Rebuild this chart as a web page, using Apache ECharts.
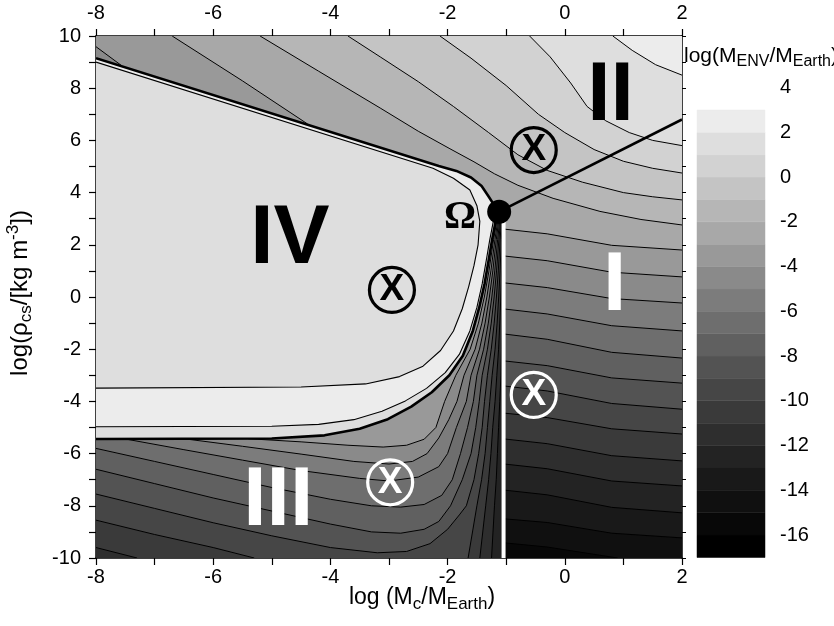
<!DOCTYPE html>
<html><head><meta charset="utf-8">
<script src="https://cdn.jsdelivr.net/npm/echarts/dist/echarts.min.js"></script>
<style>html,body{margin:0;padding:0;background:#fff}#c{width:834px;height:626px}</style>
</head><body><div id="c"></div>
<script>
// ---------- colour scale (band lower bounds and colours) ----------
const bandLows = [-17,-16,-15,-14,-13,-12,-11,-10,-9,-8,-7,-6,-5,-4,-3,-2,-1,0,1,2];
const bandColors = ['#000000','#080808','#101010','#191919','#232323','#2e2e2e','#3a3a3a','#464646','#535353','#606060','#6e6e6e','#7c7c7c','#8a8a8a','#999999','#a8a8a8','#b6b6b6','#c4c4c4','#d2d2d2','#dedede','#ececec'];

// ---------- region I contours (level, points) ----------
const regionILines = [
 [-3, [[-1.03,2.6],[-0.3,2.42],[0.8,1.98],[2,1.8]]],
 [-4, [[-1.03,1.57],[-0.3,1.39],[0.8,0.95],[2,0.77]]],
 [-5, [[-1.03,0.54],[-0.3,0.36],[0.8,-0.06],[2,-0.23]]],
 [-6, [[-1.03,-0.46],[-0.3,-0.65],[0.8,-1.1],[2,-1.3]]],
 [-7, [[-1.03,-1.42],[-0.3,-1.62],[0.8,-2.12],[2,-2.34]]],
 [-8, [[-1.03,-2.45],[-0.3,-2.63],[0.8,-3.1],[2,-3.3]]],
 [-9, [[-1.03,-3.41],[-0.3,-3.6],[0.8,-4.08],[2,-4.3]]],
 [-10,[[-1.03,-4.45],[-0.3,-4.62],[0.8,-5.05],[2,-5.25]]],
 [-11,[[-1.03,-5.44],[-0.3,-5.62],[0.8,-6.08],[2,-6.28]]],
 [-12,[[-1.03,-6.4],[-0.3,-6.58],[0.8,-7.05],[2,-7.24]]],
 [-13,[[-1.03,-7.4],[-0.3,-7.58],[0.8,-8.06],[2,-8.27]]],
 [-14,[[-1.03,-8.5],[-0.3,-8.64],[0.8,-9.05],[2,-9.23]]],
 [-15,[[-1.03,-9.42],[-0.3,-9.58],[0.5,-9.86],[0.9,-10]]]
];
// ---------- upper region contours ----------
const upperLines = [
 [-2, [[-5.2,10],[-4.2,8.65],[-3.15,7.24],[-2.5,6.35],[-1.96,5.68],[-1.55,5.18],[-1.2,4.72],[-0.8,4.28],[-0.2,3.78],[0.6,3.28],[1.3,2.97],[2,2.76]]],
 [-1, [[-3.7,10],[-3.15,9.2],[-2.5,8.25],[-1.9,7.3],[-1.3,6.3],[-0.8,5.45],[-0.3,4.85],[0.3,4.4],[1.0,4.0],[1.5,3.84],[2,3.72]]],
 [0,  [[-2.13,10],[-1.6,9.15],[-1.0,8.1],[-0.45,7.0],[0.0,6.3],[0.5,5.65],[1.0,5.2],[1.5,4.93],[2,4.75]]],
 [1,  [[-0.6,10],[-0.25,9.2],[0.1,8.2],[0.38,7.3],[0.7,6.75],[1.1,6.3],[1.5,6.0],[2,5.8]]],
 [2,  [[0.82,10],[1.15,9.45],[1.55,8.9],[2,8.5]]]
];
const cornerLineA = [[-8,9.59],[-7.56,8.86]];          // level -4
const cornerLineB = [[-6.7,10],[-5.5,8.28],[-4.39,6.63]]; // level -3

// ---------- region III contours ----------
const r3Full = [
 [-9, [[-8,-7.55],[-7,-8.1],[-6,-8.65],[-5,-9.15],[-4,-9.6],[-3.2,-9.8],[-2.7,-9.75],[-2.3,-9.45],[-2.0,-8.9],[-1.8,-8.35],[-1.68,-8.0],[-1.55,-7.0],[-1.47,-6.0],[-1.41,-5.0],[-1.37,-4.0],[-1.32,-3.0],[-1.255,-2.0],[-1.205,-1.0],[-1.167,0],[-1.135,1.0],[-1.104,2.2],[-1.082,2.9]]],
 [-8, [[-8,-6.6],[-7,-7.15],[-6,-7.7],[-5,-8.2],[-4,-8.7],[-3.3,-9.0],[-2.8,-9.05],[-2.4,-8.9],[-2.15,-8.6],[-1.95,-8.0],[-1.75,-7.0],[-1.6,-6.0],[-1.52,-5.0],[-1.46,-4.0],[-1.41,-3.0],[-1.32,-2.0],[-1.255,-1.0],[-1.206,0],[-1.165,1.0],[-1.125,2.2],[-1.097,2.9]]],
 [-7, [[-8,-5.8],[-7,-6.3],[-6,-6.8],[-5,-7.3],[-4,-7.75],[-3.3,-8.0],[-2.8,-8.05],[-2.4,-7.95],[-2.1,-7.6],[-1.92,-7.0],[-1.78,-6.0],[-1.66,-5.0],[-1.56,-4.0],[-1.5,-3.0],[-1.385,-2.0],[-1.305,-1.0],[-1.245,0],[-1.195,1.0],[-1.146,2.2],[-1.112,2.9]]],
 [-6, [[-7.5,-5.44],[-6.5,-5.85],[-5.5,-6.25],[-4.5,-6.65],[-3.5,-6.95],[-3.0,-7.05],[-2.5,-6.9],[-2.15,-6.5],[-2.0,-6.0],[-1.85,-5.0],[-1.68,-4.0],[-1.6,-3.0],[-1.455,-2.0],[-1.36,-1.0],[-1.287,0],[-1.228,1.0],[-1.169,2.2],[-1.129,2.9]]],
 [-5, [[-6.5,-5.43],[-5.5,-5.72],[-4.5,-6.02],[-3.6,-6.3],[-3.0,-6.4],[-2.6,-6.3],[-2.35,-6.0],[-2.15,-5.4],[-1.98,-4.7],[-1.84,-4.0],[-1.72,-3.0],[-1.53,-2.0],[-1.415,-1.0],[-1.33,0],[-1.261,1.0],[-1.192,2.2],[-1.145,2.9]]],
 [-4, [[-5.4,-5.43],[-4.5,-5.55],[-3.7,-5.68],[-3.1,-5.75],[-2.7,-5.68],[-2.4,-5.45],[-2.2,-5.0],[-2.05,-4.0],[-1.86,-3.0],[-1.615,-2.0],[-1.474,-1.0],[-1.373,0],[-1.294,1.0],[-1.215,2.2],[-1.162,2.9]]]
];
const r3Split = [
 [-12, null, [[-1.25,-10],[-1.2,-8.0],[-1.17,-7.0],[-1.15,-6.0],[-1.13,-5.0],[-1.11,-4.0],[-1.09,-3.0],[-1.08,-2.0],[-1.07,-1.0],[-1.061,0],[-1.054,1.0],[-1.047,2.2],[-1.042,2.9]]],
 [-11, [[-8,-9.6],[-7.3,-10]], [[-1.45,-10],[-1.35,-8.0],[-1.3,-7.0],[-1.26,-6.0],[-1.23,-5.0],[-1.19,-4.0],[-1.16,-3.0],[-1.13,-2.0],[-1.11,-1.0],[-1.092,0],[-1.078,1.0],[-1.064,2.2],[-1.054,2.9]]],
 [-10, [[-8,-8.55],[-7,-9.1],[-6,-9.6],[-5.3,-10]], [[-1.65,-10],[-1.5,-8.0],[-1.42,-7.0],[-1.36,-6.0],[-1.32,-5.0],[-1.28,-4.0],[-1.24,-3.0],[-1.19,-2.0],[-1.155,-1.0],[-1.128,0],[-1.105,1.0],[-1.083,2.2],[-1.067,2.9]]]
];

// ---------- region IV boundaries ----------
const ivTop = [[-8,9.15],[-2.15,5.02],[-1.85,4.83],[-1.6,4.58],[-1.42,4.25],[-1.3,3.85],[-1.2,3.5],[-1.12,3.27]];
const ivEdge = [[-1.12,3.27],[-1.18,2.9],[-1.24,2.2],[-1.30,1.4],[-1.37,0.5],[-1.46,-0.4],[-1.57,-1.3],[-1.74,-2.25],[-1.97,-3.0],[-2.27,-3.65],[-2.62,-4.2],[-3.02,-4.68],[-3.5,-5.05],[-4.1,-5.3],[-5,-5.42],[-8,-5.44]];
const ivRingEdge = [[-1.2,3.2],[-1.22,2.9],[-1.28,2.2],[-1.34,1.4],[-1.41,0.5],[-1.5,-0.4],[-1.62,-1.3],[-1.8,-2.2],[-2.04,-2.9],[-2.36,-3.5],[-2.72,-3.98],[-3.12,-4.38],[-3.6,-4.7],[-4.2,-4.88],[-5,-4.95],[-8,-4.97]];
const ivInner = [[-8,9.0],[-2.25,4.93],[-1.9,4.55],[-1.62,4.1],[-1.5,3.5],[-1.45,2.9],[-1.48,2.0],[-1.55,1.2],[-1.64,0.4],[-1.75,-0.45],[-1.9,-1.3],[-2.12,-2.05],[-2.42,-2.65],[-2.82,-3.05],[-3.4,-3.33],[-4.5,-3.45],[-8,-3.49]];

const whiteLine = [[-1.045,3.2],[-1.045,-10]];
const omegaLine = [[-1.12,3.27],[2,6.8]];
const omegaPoint = [[-1.12,3.27]];
const blackMarks = [[-0.53,5.63],[-2.95,0.27]];
const whiteMarks = [[-0.53,-3.75],[-2.98,-7.1]];
const darkLabels = [['IV',-4.69,2.18],['II',0.78,7.66]];
const lightLabels = [['III',-4.89,-7.85],['I',0.85,0.4]];
const omegaLabel = [['Ω',-1.79,3.03]];

// ---------- build shapes ----------
function colorOf(l){ return bandColors[bandLows.indexOf(l)]; }
function find(arr,l){ for (const a of arr) if (a[0]===l) return a; return null; }
const shapes = [];
function poly(pts, fill){ shapes.push({t:'polygon', pts, fill}); }
function pline(pts, stroke, lw){ shapes.push({t:'polyline', pts, stroke, lw}); }

// region R (upper + region I)
poly([[-8,-10],[2,-10],[2,10],[-8,10]], colorOf(-16));
for (let L=-15; L<=-5; L++){
  const line = find(regionILines,L)[1];
  const p = line.slice();
  if (p[p.length-1][1] === -10) p.push([2,-10]);
  p.push([2,10],[-8,10],[-8,-10],[-1.03,-10]);
  poly(p, colorOf(L));
}
poly([[-8,10]].concat(cornerLineA,[[-7.56,-10],[-1.03,-10]],find(regionILines,-4)[1],[[2,10]]), colorOf(-4));
poly(cornerLineB.concat([[-4.39,-10],[-1.03,-10]],find(regionILines,-3)[1],[[2,10]]), colorOf(-3));
for (const [L,pts] of upperLines) poly(pts.concat([[2,10]]), colorOf(L));

// region III
poly([[-8,-10],[-1.03,-10],[-1.03,2.9],[-1.12,3.1],[-8,9.1]], colorOf(-13));
for (const [L,left,right] of r3Split){
  let p = left ? left.concat(right) : right.slice();
  p = p.concat([[-1.12,3.1],[-8,9.1]]);
  if (!left) p.push([-8,-10]);
  poly(p, colorOf(L));
}
for (const [L,pts] of r3Full){
  const p = pts.concat([[-1.12,3.1],[-8,9.1]]);
  if (pts[0][0] !== -8) p.push([-8,-5.44]);
  poly(p, colorOf(L));
}
// region IV
poly(ivTop.concat(ivEdge.slice(1)), colorOf(1));
poly(ivTop.slice(0,7).concat(ivRingEdge), colorOf(2));
poly(ivInner, colorOf(1));

// contour lines
for (const [L,pts] of regionILines) pline(pts,'#000',1);
for (const [L,pts] of upperLines) pline(pts,'#000',1);
pline(cornerLineA,'#000',1); pline(cornerLineB,'#000',1);
for (const [L,pts] of r3Full) pline(pts,'#000',1);
for (const [L,left,right] of r3Split){ if (left) pline(left,'#000',1); pline(right,'#000',1); }
pline(ivInner,'#000',1.1);
pline(ivRingEdge,'#000',1.1);
pline(ivTop.concat(ivEdge.slice(1)),'#000',2.6);
pline(whiteLine,'#fff',4);
pline(omegaLine,'#000',2.6);

const FONT = 'Liberation Sans';
const chart = echarts.init(document.getElementById('c'));
const axisCommon = {
  type:'value', splitLine:{show:false},
  axisLine:{show:true,onZero:false,lineStyle:{color:'#000',width:1.5}},
  axisTick:{show:true,inside:false,length:7,lineStyle:{color:'#000',width:1.2}}
};
const evenFmt = v => (Math.round(v)%2===0 ? String(Math.round(v)) : '');
const labelStyle = {show:true,position:'inside',opacity:1,fontWeight:'bold',fontFamily:FONT,textBorderWidth:0};
chart.setOption({
  animation:false,
  textStyle:{fontFamily:FONT},
  grid:[{left:96,top:36,width:586,height:522},{left:697,top:87.6,width:68,height:469.9}],
  xAxis:[
    Object.assign({},axisCommon,{gridIndex:0,min:-8,max:2,interval:1,position:'bottom',axisLabel:{formatter:evenFmt,fontSize:20,color:'#000',margin:9,fontFamily:FONT}}),
    Object.assign({},axisCommon,{gridIndex:0,min:-8,max:2,interval:1,position:'top',axisLabel:{formatter:evenFmt,fontSize:20,color:'#000',margin:13,fontFamily:FONT}}),
    {gridIndex:1,type:'value',min:0,max:1,show:false}
  ],
  yAxis:[
    Object.assign({},axisCommon,{gridIndex:0,min:-10,max:10,interval:1,position:'left',axisLabel:{formatter:evenFmt,fontSize:20,color:'#000',margin:15,fontFamily:FONT}}),
    Object.assign({},axisCommon,{gridIndex:0,min:-10,max:10,interval:1,position:'right',axisTick:{show:true,inside:false,length:4,lineStyle:{color:'#000'}},axisLabel:{show:false}}),
    {gridIndex:1,type:'value',min:-17,max:4,interval:1,position:'right',splitLine:{show:false},axisLine:{show:false},axisTick:{show:false},
     axisLabel:{formatter:evenFmt,fontSize:20,color:'#000',margin:15,fontFamily:FONT}}
  ],
  graphic:[
    {type:'text',x:422,y:598,z:100,style:{text:'{a|log (M}{s|c}{a|/M}{s|Earth}{a|)}',align:'center',verticalAlign:'middle',
      rich:{a:{fontSize:23,lineHeight:30,fontFamily:FONT,fill:'#000'},s:{fontSize:17,lineHeight:17,verticalAlign:'bottom',fontFamily:FONT,fill:'#000'}}}},
    {type:'text',x:20,y:293,rotation:Math.PI/2,z:100,style:{text:'{a|log(ρ}{s|cs}{a|/[kg m}{p|-3}{a|])}',align:'center',verticalAlign:'middle',
      rich:{a:{fontSize:24,lineHeight:30,fontFamily:FONT,fill:'#000'},s:{fontSize:17,lineHeight:17,verticalAlign:'bottom',fontFamily:FONT,fill:'#000'},p:{fontSize:17,lineHeight:17,verticalAlign:'top',fontFamily:FONT,fill:'#000'}}}},
    {type:'text',x:684,y:56,z:100,style:{text:'{a|log(M}{s|ENV}{a|/M}{s|Earth}{a|)}',align:'left',verticalAlign:'middle',
      rich:{a:{fontSize:21,lineHeight:28,fontFamily:FONT,fill:'#000'},s:{fontSize:16,lineHeight:16,verticalAlign:'bottom',fontFamily:FONT,fill:'#000'}}}}
  ],
  series:[
    {type:'custom',xAxisIndex:0,yAxisIndex:0,silent:true,clip:true,
     data:shapes.map(()=>[-3,0]),
     renderItem:(params,api)=>{
       const s = shapes[params.dataIndex];
       const points = s.pts.map(p=>api.coord(p));
       if (s.t==='polygon') return {type:'polygon',shape:{points},style:{fill:s.fill,stroke:s.fill,lineWidth:0.6}};
       return {type:'polyline',shape:{points},style:{fill:null,stroke:s.stroke,lineWidth:s.lw,lineJoin:'round'}};
     }},
    {type:'scatter',xAxisIndex:0,yAxisIndex:0,silent:true,data:omegaPoint,symbol:'circle',symbolSize:24,itemStyle:{color:'#000',opacity:1},z:5},
    {type:'scatter',xAxisIndex:0,yAxisIndex:0,silent:true,data:blackMarks,symbol:'circle',symbolSize:45,z:6,
     itemStyle:{color:'rgba(0,0,0,0)',borderColor:'#000',borderWidth:3.2,opacity:1},
     label:Object.assign({},labelStyle,{formatter:'X',fontSize:37,color:'#000'})},
    {type:'scatter',xAxisIndex:0,yAxisIndex:0,silent:true,data:whiteMarks,symbol:'circle',symbolSize:45,z:6,
     itemStyle:{color:'rgba(0,0,0,0)',borderColor:'#fff',borderWidth:3.2,opacity:1},
     label:Object.assign({},labelStyle,{formatter:'X',fontSize:37,color:'#fff'})},
    {type:'scatter',xAxisIndex:0,yAxisIndex:0,silent:true,data:darkLabels.map(d=>({value:[d[1],d[2]],name:d[0]})),symbolSize:0,z:7,
     itemStyle:{opacity:1},
     label:Object.assign({},labelStyle,{formatter:'{b}',fontSize:84,color:'#000'})},
    {type:'scatter',xAxisIndex:0,yAxisIndex:0,silent:true,data:lightLabels.map(d=>({value:[d[1],d[2]],name:d[0]})),symbolSize:0,z:7,
     itemStyle:{opacity:1},
     label:Object.assign({},labelStyle,{formatter:'{b}',fontSize:84,color:'#fff'})},
    {type:'scatter',xAxisIndex:0,yAxisIndex:0,silent:true,data:omegaLabel.map(d=>({value:[d[1],d[2]],name:d[0]})),symbolSize:0,z:7,
     itemStyle:{opacity:1},
     label:Object.assign({},labelStyle,{formatter:'{b}',fontSize:40,color:'#000',fontFamily:'Liberation Serif'})},
    {type:'custom',xAxisIndex:2,yAxisIndex:2,silent:true,
     data:bandLows.map(l=>[0,l]),
     renderItem:(params,api)=>{
       const lo = api.value(1);
       const p0 = api.coord([0,lo]); const p1 = api.coord([1,lo+1]);
       return {type:'rect',shape:{x:p0[0],y:p1[1],width:p1[0]-p0[0],height:p0[1]-p1[1]},style:{fill:bandColors[params.dataIndex],stroke:bandColors[params.dataIndex],lineWidth:0.5}};
     }}
  ]
});
</script></body></html>
